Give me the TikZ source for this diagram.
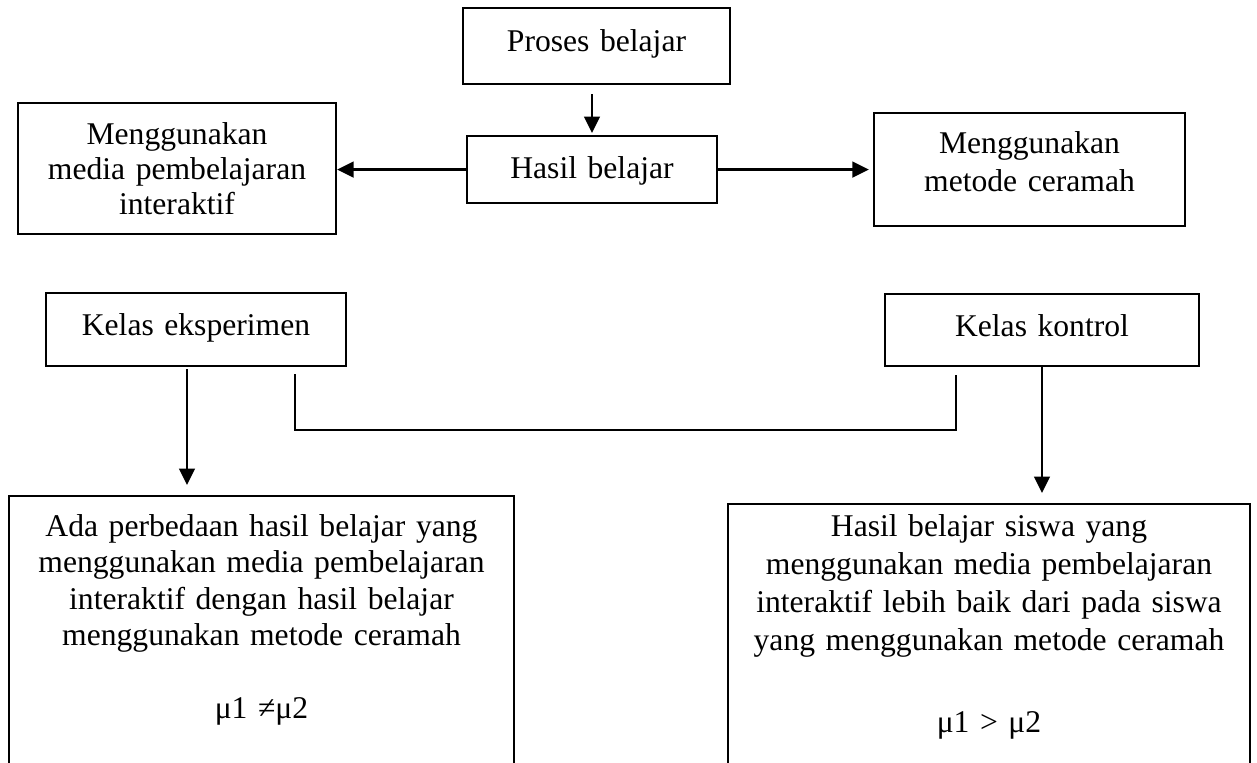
\documentclass[tikz,border=0pt]{standalone}
\usepackage{fontspec}
\setmainfont{Liberation Serif}
\usetikzlibrary{arrows.meta, positioning}
\tikzset{
  boks/.style 2 args={draw, line width=1.25pt, anchor=north, align=center,
                      inner sep=0pt, text height=#1, text depth=#2},
  panah/.style={-{Triangle[length=0.33cm, width=0.31cm]}, line width=1.6pt},
  garis/.style={line width=1pt},
}
\begin{document}
\begin{tikzpicture}[x=0.02cm, y=-0.02cm, font=\fontsize{18}{20}\selectfont]
  \clip (0,0) rectangle (1257,762);
  %% Top row: Proses -> Hasil -> two methods
  \node[boks={0.86cm}{0.66cm}, text width=5.34cm] (proses) at (596.5,7) {Proses belajar};
  \node[boks={0.84cm}{0.5cm}, text width=5cm] (hasil) at (592,135) {Hasil belajar};
  \node[boks={0.82cm}{1.8cm}, text width=6.36cm] (media) at (177,102)
    {Menggunakan\\media pembelajaran\\interaktif};
  \node[boks={0.8cm}{1.46cm}, text width=6.22cm, font=\fontsize{18}{22}\selectfont]
    (ceramah) at (1029.5,112) {Menggunakan\\metode ceramah};
  \draw[panah, shorten <=0.18cm, shorten >=0.04cm] (hasil.north |- proses.south) -- (hasil.north);
  \draw[panah] (hasil.west) -- (hasil.west -| media.east);
  \draw[panah, shorten >=0.08cm] (hasil.east) -- (hasil.east -| ceramah.west);
  %% Kelas row
  \node[boks={0.84cm}{0.62cm}, text width=6cm] (eksp) at (196,292) {Kelas eksperimen};
  \node[boks={0.84cm}{0.6cm}, text width=6.28cm] (kontrol) at (1042,293) {Kelas kontrol};
  \coordinate (ka) at ([xshift=1.98cm, yshift=-0.14cm]eksp.south);
  \coordinate (kb) at ([xshift=-1.72cm, yshift=-0.16cm]kontrol.south);
  \draw[garis] (ka) -- ++(0,56) -| (kb);
  %% Hipotesis
  \node[boks={0.8cm}{8cm}, text width=10.1cm, font=\fontsize{18}{20.8}\selectfont]
    (beda) at (261.5,495)
    {Ada perbedaan hasil belajar yang\\menggunakan media pembelajaran\\interaktif dengan hasil belajar\\menggunakan metode ceramah\\[20.5pt]μ1 ≠μ2};
  \node[boks={0.64cm}{8cm}, text width=10.44cm, font=\fontsize{18}{21.7}\selectfont]
    (lebih) at (989,503)
    {Hasil belajar siswa yang\\menggunakan media pembelajaran\\interaktif lebih baik dari pada siswa\\yang menggunakan metode ceramah\\[24.8pt]μ1 > μ2};
  \draw[panah, shorten <=0.04cm, shorten >=0.2cm]
    ([xshift=-0.18cm]eksp.south) -- ([xshift=-0.18cm]eksp.south |- beda.north);
  \draw[panah, shorten >=0.2cm] (kontrol.south) -- (kontrol.south |- lebih.north);
\end{tikzpicture}
\end{document}
